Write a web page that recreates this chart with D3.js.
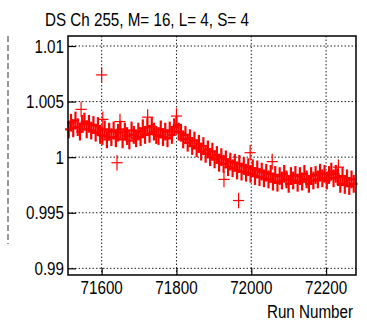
<!DOCTYPE html>
<html lang="en">
<head>
    <meta charset="UTF-8">
    <title>DS Ch 255</title>
    <script src="https://d3js.org/d3.v7.min.js"></script>
    <style>
body {
    margin: 0;
    background: #fff;
}
svg {
    display: block;
}
text {
    font-family: "Liberation Sans", Arial, Helvetica, sans-serif;
    fill: #000;
}
    </style>
</head>
<body>
    <svg id="chart" width="367" height="325"></svg>

    <script>
const width = 367;
const height = 325;
const frame = { left: 68, right: 356, top: 36, bottom: 275 };
const squeeze = 0.8; // the original text is narrow

const title = "DS Ch 255, M= 16, L= 4, S= 4";
const xLabel = "Run Number";
const xTicks = [71600, 71800, 72000, 72200];
const yTicks = [0.99, 0.995, 1, 1.005, 1.01];
const yTickLabels = ["0.99", "0.995", "1", "1.005", "1.01"];

// main band of runs
const runs = [
    71512, 71518, 71524, 71530, 71536, 71542, 71548, 71554, 71560, 71566,
    71572, 71578, 71584, 71590, 71596, 71602, 71608, 71614, 71620, 71626,
    71632, 71638, 71644, 71650, 71656, 71662, 71668, 71674, 71680, 71686,
    71692, 71698, 71704, 71710, 71716, 71722, 71728, 71734, 71740, 71746,
    71752, 71758, 71764, 71770, 71776, 71782, 71788, 71794, 71800, 71806,
    71812, 71818, 71824, 71830, 71836, 71842, 71848, 71854, 71860, 71866,
    71872, 71878, 71884, 71890, 71896, 71902, 71908, 71914, 71920, 71926,
    71932, 71938, 71944, 71950, 71956, 71962, 71968, 71974, 71980, 71986,
    71992, 71998, 72004, 72010, 72016, 72022, 72028, 72034, 72040, 72046,
    72052, 72058, 72064, 72070, 72076, 72082, 72088, 72094, 72100, 72106,
    72112, 72118, 72124, 72130, 72136, 72142, 72148, 72154, 72160, 72166,
    72172, 72178, 72184, 72190, 72196, 72202, 72208, 72214, 72220, 72226,
    72232, 72238, 72244, 72250, 72256, 72262, 72268, 72274
];
const values = [
    1.0025, 1.0031, 1.0026, 1.0033, 1.0027, 1.0023, 1.0030, 1.0032, 1.0025, 1.0030,
    1.0024, 1.0029, 1.0022, 1.0028, 1.0020, 1.0019, 1.0025, 1.0016, 1.0023, 1.0018,
    1.0024, 1.0017, 1.0022, 1.0025, 1.0016, 1.0023, 1.0019, 1.0015, 1.0024, 1.0020,
    1.0017, 1.0023, 1.0018, 1.0026, 1.0020, 1.0027, 1.0021, 1.0028, 1.0023, 1.0020,
    1.0019, 1.0025, 1.0018, 1.0023, 1.0017, 1.0024, 1.0020, 1.0027, 1.0029, 1.0023,
    1.0022, 1.0016, 1.0020, 1.0013, 1.0017, 1.0010, 1.0015, 1.0008, 1.0012, 1.0005,
    1.0010, 1.0003, 1.0007, 1.0000, 1.0005, 0.9998, 1.0002, 0.9995, 1.0000, 0.9994,
    0.9998, 0.9991, 0.9996, 0.9990, 0.9995, 0.9988, 0.9994, 0.9987, 0.9992, 0.9986,
    0.9991, 0.9985, 0.9990, 0.9983, 0.9989, 0.9982, 0.9987, 0.9981, 0.9986, 0.9980,
    0.9985, 0.9978, 0.9984, 0.9977, 0.9983, 0.9979, 0.9985, 0.9980, 0.9976, 0.9983,
    0.9979, 0.9984, 0.9977, 0.9983, 0.9978, 0.9985, 0.9980, 0.9976, 0.9983, 0.9979,
    0.9984, 0.9980, 0.9986, 0.9981, 0.9985, 0.9979, 0.9984, 0.9987, 0.9981, 0.9985,
    0.9982, 0.9976, 0.9983, 0.9975, 0.9981, 0.9974, 0.9980, 0.9976
];
const errRun = 10;
const errValue = 0.0008;

// isolated points away from the band
const outlierRuns = [71545, 71600, 71603, 71641, 71649, 71723, 71800, 71927, 71966, 71997, 72056, 72233];
const outlierValues = [1.0043, 1.0074, 1.0034, 0.9995, 1.0032, 1.0036, 1.0037, 0.9980, 0.9961, 1.0004, 0.9996, 0.9991];
const outlierErrRun = 15;
const outlierErrValue = 0.0007;

const xScale = d3.scaleLinear().domain([71510, 72280]).range([frame.left, frame.right]);
const yScale = d3.scaleLinear().domain([0.9894, 1.0109]).range([frame.bottom, frame.top]);

const svg = d3.select("#chart");

// dashed line at far left
svg.append("line")
    .attr("x1", 8).attr("x2", 8)
    .attr("y1", 36).attr("y2", 244)
    .attr("stroke", "#777")
    .attr("stroke-width", 1.5)
    .attr("stroke-dasharray", "6,3");

// grid
const grid = svg.append("g");
grid.selectAll(".gx").data(xTicks).join("line")
    .attr("x1", d => xScale(d)).attr("x2", d => xScale(d))
    .attr("y1", frame.top).attr("y2", frame.bottom)
    .attr("stroke", "#222").attr("stroke-width", 1).attr("stroke-dasharray", "1.5,2");
grid.selectAll(".gy").data(yTicks).join("line")
    .attr("x1", frame.left).attr("x2", frame.right)
    .attr("y1", d => yScale(d)).attr("y2", d => yScale(d))
    .attr("stroke", "#222").attr("stroke-width", 1).attr("stroke-dasharray", "1.5,2");

// data crosses
function drawCrosses(g, xs, ys, ex, ey) {
    const pts = xs.map((r, i) => ({ r: r, v: ys[i] }));
    g.selectAll(".h").data(pts).join("line")
        .attr("x1", d => xScale(d.r - ex)).attr("x2", d => xScale(d.r + ex))
        .attr("y1", d => yScale(d.v)).attr("y2", d => yScale(d.v));
    g.selectAll(".v").data(pts).join("line")
        .attr("x1", d => xScale(d.r)).attr("x2", d => xScale(d.r))
        .attr("y1", d => yScale(d.v - ey)).attr("y2", d => yScale(d.v + ey));
}

const marks = svg.append("g").attr("stroke", "#ff0000");
drawCrosses(marks.append("g").attr("stroke-width", 2.2), runs, values, errRun, errValue);
drawCrosses(marks.append("g").attr("stroke-width", 1.2), outlierRuns, outlierValues, outlierErrRun, outlierErrValue);

// axes (ticks pointing inward)
svg.append("g")
    .attr("transform", "translate(0," + frame.bottom + ")")
    .call(d3.axisTop(xScale).tickValues(xTicks).tickSize(7).tickFormat(""))
    .call(g => g.select(".domain").remove())
    .selectAll("line").attr("stroke", "#000").attr("stroke-width", 1.2);

svg.append("g")
    .attr("transform", "translate(" + frame.left + ",0)")
    .call(d3.axisRight(yScale).tickValues(yTicks).tickSize(8).tickFormat(""))
    .call(g => g.select(".domain").remove())
    .selectAll("line").attr("stroke", "#000").attr("stroke-width", 1.2);

svg.append("rect")
    .attr("x", frame.left).attr("y", frame.top)
    .attr("width", frame.right - frame.left).attr("height", frame.bottom - frame.top)
    .attr("fill", "none").attr("stroke", "#000").attr("stroke-width", 1.5);

// narrow text helper
function label(x, y, anchor, size, str) {
    return svg.append("text")
        .attr("transform", "translate(" + x + "," + y + ") scale(" + squeeze + ",1)")
        .attr("text-anchor", anchor)
        .attr("font-size", size)
        .text(str);
}

xTicks.forEach(d => label(xScale(d), 294, "middle", 19, d));
yTicks.forEach((d, i) => label(64, yScale(d) + 6.5, "end", 19, yTickLabels[i]));
label(353, 318, "end", 19, xLabel);
label(45, 26, "start", 19, title);
    </script>
</body>
</html>
